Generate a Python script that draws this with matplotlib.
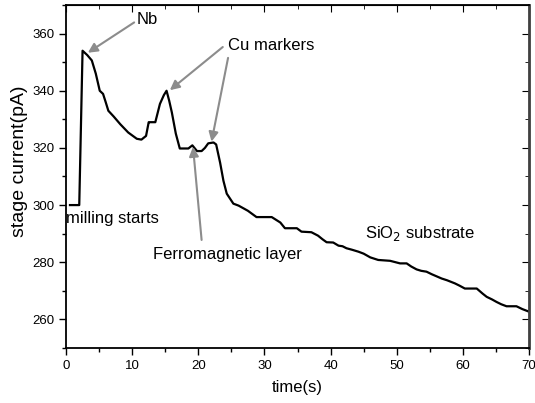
import matplotlib
matplotlib.use("Agg")
import matplotlib.pyplot as plt
from matplotlib.ticker import MultipleLocator

plt.rcParams['font.family'] = ['Liberation Sans', 'DejaVu Sans']

time_s = [0.6, 2.0, 2.5, 3.2, 3.9, 4.5, 5.1, 5.6, 6.0, 6.4, 7.2, 8.2, 9.4, 10.7, 11.4,
          12.1, 12.5, 12.7, 13.5, 14.2, 14.8, 15.2, 15.6, 16.0, 16.6, 17.2, 18.5, 19.1,
          19.8, 20.5, 21.0, 21.5, 22.3, 22.7, 23.3, 23.8, 24.3, 25.3, 26.1, 27.5, 28.8,
          31.1, 32.4, 33.1, 34.9, 35.6, 37.1, 38.1, 38.8, 39.4, 40.4, 41.2, 41.8, 42.4,
          43.2, 44.2, 45.0, 46.0, 47.2, 49.0, 50.5, 51.5, 52.2, 53.0, 53.7, 54.5, 55.3,
          56.0, 56.8, 57.6, 58.8, 59.5, 60.3, 62.1, 63.0, 63.6, 64.4, 65.1, 65.8, 66.6,
          68.1, 69.0, 69.9, 70.0]
current_pA = [300.0, 300.0, 354.0, 352.5, 350.6, 346.0, 340.0, 338.9, 336.0, 333.0, 331.0,
              328.3, 325.4, 323.2, 322.9, 324.2, 329.0, 329.0, 329.0, 335.4, 338.5, 340.0,
              336.5, 332.4, 325.0, 319.8, 319.8, 320.9, 318.9, 318.9, 320.0, 321.6, 321.9,
              321.2, 314.8, 308.5, 304.0, 300.5, 299.8, 298.0, 295.8, 295.8, 293.9, 291.9,
              291.9, 290.7, 290.5, 289.3, 288.0, 287.0, 286.9, 285.8, 285.6, 284.9, 284.4,
              283.7, 283.0, 281.7, 280.8, 280.5, 279.6, 279.6, 278.5, 277.5, 277.0, 276.7,
              275.8, 275.1, 274.3, 273.7, 272.6, 271.8, 270.8, 270.8, 269.0, 267.9, 267.0,
              266.1, 265.3, 264.6, 264.6, 263.6, 262.8, 262.8]

x_ticks = [0, 10, 20, 30, 40, 50, 60, 70]
y_ticks = [260, 280, 300, 320, 340, 360]

fig = plt.figure(figsize=(5.35, 4.03), dpi=100)
ax = fig.add_axes([0.1234, 0.1365, 0.8654, 0.8511])
ax.plot(time_s, current_pA, color='black', lw=1.6)

ax.set_xlim(0, 70)
ax.set_ylim(250, 370)
ax.set_xticks(x_ticks)
ax.set_yticks(y_ticks)
ax.xaxis.set_minor_locator(MultipleLocator(5))
ax.yaxis.set_minor_locator(MultipleLocator(10))
ax.tick_params(which='major', direction='out', length=5, width=1.0, labelsize=9.5)
ax.tick_params(which='minor', direction='out', length=3, width=1.0)
for s in ax.spines.values():
    s.set_linewidth(1.3)
ax.spines['right'].set_color('#404040')
ax.spines['right'].set_linewidth(2.0)

# mirrored inward ticks on top and right
top = ax.secondary_xaxis('top')
top.set_xticks(x_ticks)
top.xaxis.set_minor_locator(MultipleLocator(5))
top.tick_params(which='major', direction='in', length=5, labeltop=False)
top.tick_params(which='minor', direction='in', length=3)
right = ax.secondary_yaxis('right')
right.set_yticks(y_ticks)
right.yaxis.set_minor_locator(MultipleLocator(10))
right.tick_params(which='major', direction='in', length=5, labelright=False)
right.tick_params(which='minor', direction='in', length=3)

ax.set_xlabel('time(s)', fontsize=12, labelpad=6)
ax.set_ylabel('stage current(pA)', fontsize=14)
ax.yaxis.set_label_coords(-0.082, 0.545)

arrow = dict(arrowstyle='-|>', color='#8c8c8c', lw=1.5, mutation_scale=14, shrinkA=0, shrinkB=0)
ax.annotate('', xy=(3.3, 353.3), xytext=(10.3, 363.9), arrowprops=arrow)
ax.text(10.6, 365.0, 'Nb', fontsize=12, ha='left', va='center')
ax.annotate('', xy=(15.7, 340.2), xytext=(23.7, 355.3), arrowprops=arrow)
ax.annotate('', xy=(22.0, 322.2), xytext=(24.5, 351.5), arrowprops=arrow)
ax.text(24.5, 356.0, 'Cu markers', fontsize=12, ha='left', va='center')
ax.annotate('', xy=(19.2, 320.4), xytext=(20.5, 287.8), arrowprops=arrow)
ax.text(13.1, 282.6, 'Ferromagnetic layer', fontsize=12, ha='left', va='center')
ax.text(0.0, 295.3, 'milling starts', fontsize=12, ha='left', va='center')
ax.text(45.2, 290.0, 'SiO$_2$ substrate', fontsize=12, ha='left', va='center')

fig.savefig('out.png', dpi=100)
